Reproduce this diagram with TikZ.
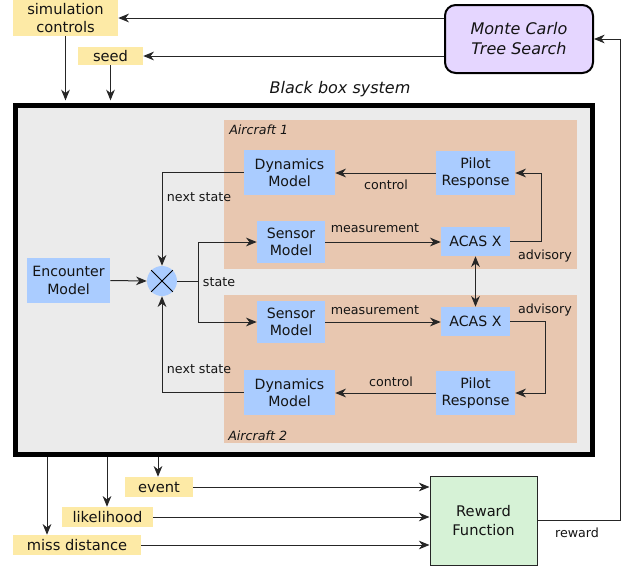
\documentclass[tikz,border=0pt]{standalone}
\usepackage{fontspec}
\setmainfont{DejaVu Sans}
\usetikzlibrary{arrows.meta}
\definecolor{yel}{RGB}{253,234,166}
\definecolor{bluec}{RGB}{170,204,255}
\definecolor{acc}{RGB}{232,199,176}
\definecolor{grayc}{RGB}{235,235,235}
\definecolor{lav}{RGB}{229,214,255}
\definecolor{grn}{RGB}{214,242,214}
\definecolor{txt}{RGB}{20,20,20}
\begin{document}
\begin{tikzpicture}[x=0.75pt,y=-0.75pt,
  tip/.tip={Stealth[length=8pt,width=6.5pt,inset=2.5pt]},
  arr/.style={-tip,line width=0.75pt,draw=black!85},
  ln/.style={line width=0.75pt,draw=black!85},
  wh/.style 2 args={minimum width={#1*0.75pt},minimum height={#2*0.75pt}},
  ybox/.style={fill=yel,inner sep=0pt,align=center,text=txt,font=\fontsize{11}{13.5}\selectfont},
  bbox/.style={fill=bluec,inner sep=0pt,align=center,text=txt,font=\fontsize{10.6}{13}\selectfont},
  lbl/.style={inner sep=0pt,text=txt,font=\fontsize{9.5}{11}\selectfont},
  acl/.style={inner sep=0pt,text=txt,font=\fontsize{9.5}{11}\selectfont\itshape},
  region/.style={fill=acc,inner sep=0pt}]
\useasboundingbox (0,0) rectangle (629,568);

% top inputs
\node[ybox, wh={105}{36}] (sim) at (65.5,18) {simulation\\controls};
\node[ybox, wh={65}{18}] (seed) at (110.5,56) {seed};
\node[fill=lav, draw=black, line width=1.5pt, rounded corners=8pt, inner sep=0pt,
      align=center, text=txt, font=\fontsize{12}{15}\selectfont\itshape,
      wh={148}{68}] (mcts) at (519,39) {Monte Carlo\\Tree Search};

% black box
\node[fill=grayc, draw=black, line width=3.9pt, inner sep=0pt, wh={577}{349}] (bb) at (304,280) {};
\node[inner sep=0pt, text=txt, font=\fontsize{12}{14}\selectfont\itshape] (bbl) at (340,89) {Black box system};

% aircraft regions
\node[region, wh={353}{149}] (ac1) at (400.5,194.5) {};
\node[region, wh={353}{148}] (ac2) at (400.5,369) {};
\node[acl, anchor=west] (ac1l) at (229,130) {Aircraft 1};
\node[acl, anchor=west] (ac2l) at (228,436) {Aircraft 2};

% blocks
\node[bbox, wh={91}{45}] (dyn1) at (289.5,172.5) {Dynamics\\Model};
\node[bbox, wh={79}{44}] (pil1) at (475.5,173) {Pilot\\Response};
\node[bbox, wh={68}{42}] (sen1) at (291,242) {Sensor\\Model};
\node[bbox, wh={69}{29}] (acas1) at (475.5,241.5) {ACAS X};
\node[bbox, wh={83}{45}] (enc) at (68.5,280.5) {Encounter\\Model};
\node[circle, fill=bluec, minimum size=22.5pt, inner sep=0pt] (sum) at (162,281) {};
\draw[line width=0.75pt] (sum.north west) -- (sum.south east) (sum.north east) -- (sum.south west);
\node[bbox, wh={68}{42}] (sen2) at (291,322) {Sensor\\Model};
\node[bbox, wh={69}{29}] (acas2) at (475.5,321.5) {ACAS X};
\node[bbox, wh={91}{45}] (dyn2) at (289.5,392.5) {Dynamics\\Model};
\node[bbox, wh={79}{44}] (pil2) at (475.5,393) {Pilot\\Response};

% internal connectors
\draw[arr] (dyn1.west) -| (sum.north);
\draw[arr] (dyn2.west) -| (sum.south);
\draw[arr] (enc.east) -- (sum.west);
\coordinate (split) at (198,281);
\draw[ln] (sum.east) -- (split);
\draw[arr] (split) |- (sen1.west);
\draw[arr] (split) |- (sen2.west);
\draw[arr] (sen1.east) -- (sen1.east -| acas1.west);
\draw[arr] (sen2.east) -- (sen2.east -| acas2.west);
\draw[arr] (acas1.east) -- ++(31,0) |- (pil1.east);
\draw[arr] (acas2.east) -- ++(35,0) |- (pil2.east);
\draw[arr] (pil1.west) -- (pil1.west -| dyn1.east);
\draw[arr] (pil2.west) -- (pil2.west -| dyn2.east);
\draw[arr, tip-tip] (acas1.south) -- (acas2.north);

\node[lbl] (ns1) at (199,197) {next state};
\node[lbl] (ns2) at (199,369) {next state};
\node[lbl] (st) at (219,282) {state};
\node[lbl] (me1) at (375,228) {measurement};
\node[lbl] (me2) at (375,310) {measurement};
\node[lbl] (ad1) at (545,256) {advisory};
\node[lbl] (ad2) at (545,310) {advisory};
\node[lbl] (co1) at (386,185) {control};
\node[lbl] (co2) at (391,382) {control};

% top connectors
\draw[arr] (mcts.west |- sim.east) -- (sim.east);
\draw[arr] (mcts.west |- seed.east) -- (seed.east);
\draw[arr, shorten >=1.9pt] (sim.south) -- (sim.south |- bb.north);
\draw[arr, shorten >=1.9pt] (seed.south) -- (seed.south |- bb.north);

% outputs
\node[ybox, wh={68}{20}] (event) at (159,487) {event};
\node[ybox, wh={91}{20}] (lik) at (107.5,517) {likelihood};
\node[ybox, wh={128}{20}] (miss) at (77,545) {miss distance};
\node[fill=grn, draw=black!85, line width=0.75pt, inner sep=0pt, align=center, text=txt,
      font=\fontsize{11}{14}\selectfont, wh={107}{89}] (rew) at (483.5,520.5) {Reward\\Function};

\coordinate (xm) at (47,540);
\coordinate (xl) at (107,510);
\coordinate (xe) at (158,480);
\draw[arr] (xm |- bb.south) -- (xm |- miss.north);
\draw[arr] (xl |- bb.south) -- (xl |- lik.north);
\draw[arr] (xe |- bb.south) -- (xe |- event.north);
\draw[arr] (event.east) -- (event.east -| rew.west);
\draw[arr] (lik.east) -- (lik.east -| rew.west);
\draw[arr] (miss.east) -- (miss.east -| rew.west);
\draw[arr] (rew.east) -- ++(83,0) |- (mcts.east);
\node[lbl] (rwl) at (577,533) {reward};
\end{tikzpicture}
\end{document}
